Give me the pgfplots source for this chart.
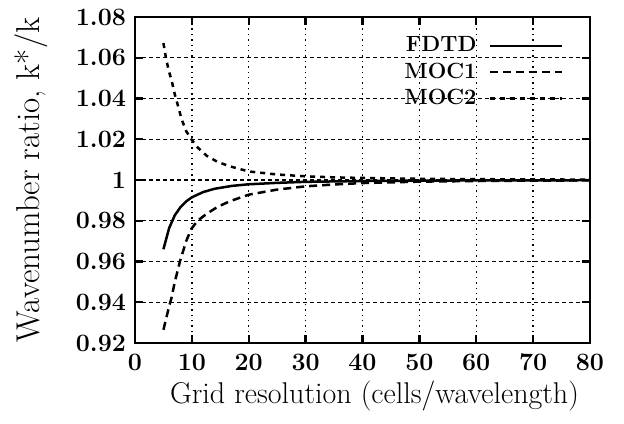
\documentclass[border=0pt]{standalone}
\usepackage{pgfplots}
\pgfplotsset{compat=1.18}
\begin{document}
\begin{tikzpicture}[font=\fontsize{14}{16}\selectfont]
\begin{axis}[
  scale only axis,
  width=227.5pt, height=163pt,
  xmin=0, xmax=80, ymin=0.92, ymax=1.08,
  xtick={0,10,...,80},
  ytick={0.92,0.94,0.96,0.98,1,1.02,1.04,1.06,1.08},
  yticklabels={0.92,0.94,0.96,0.98,1,1.02,1.04,1.06,1.08},
  /pgf/number format/assume math mode=true,
  ticklabel style={font=\fontsize{12.5}{14}\selectfont\bfseries},
  xticklabel style={yshift=-2pt},
  yticklabel style={xshift=-1pt},
  tick align=inside, major tick length=4pt,
  tick style={line width=1.2pt, black},
  axis line style={line width=1.4pt},
  grid=major,
  x grid style={black, line width=0.7pt, dotted},
  y grid style={black, line width=0.7pt, dash pattern=on 2pt off 1.5pt},
  xlabel={Grid resolution (cells/wavelength)},
  ylabel={Wavenumber ratio, k*/k},
  xlabel style={font=\fontsize{15}{17}\selectfont, yshift=2pt, xshift=6pt},
  ylabel style={font=\fontsize{16.5}{18}\selectfont, yshift=7pt},
  legend style={draw=none, fill=none, at={(0.955,0.965)}, anchor=north east,
    font=\fontsize{11}{13}\selectfont\bfseries, row sep=0pt},
  legend cell align=right,
  legend plot pos=right,
  legend image code/.code={\path (0pt,0pt); \draw[#1] (4pt,0pt) -- (40pt,0pt);},
]
\addplot[black, line width=1.25pt] coordinates {
(5,0.9660) (6,0.9764) (7,0.9827) (8,0.9867) (9,0.9895) (10,0.9915)
(12,0.9941) (14,0.9957) (17,0.9971) (20,0.9979) (25,0.9986) (30,0.9991)
(40,0.9995) (50,0.9997) (60,0.9998) (70,0.9998) (80,0.9999)};
\addlegendentry{FDTD}
\addplot[black, line width=1.25pt, dash pattern=on 4pt off 2.5pt] coordinates {
(5,0.9265) (6,0.9380) (6.4,0.9420) (7,0.9500) (7.9,0.9600) (9,0.9700)
(9.9,0.9760) (11,0.9800) (12.6,0.9834) (14.5,0.9868) (16.7,0.9896)
(20,0.9928) (25,0.9953) (30,0.9969) (35,0.9978) (40,0.9985) (50,0.9992)
(60,0.9995) (70,0.9997) (80,0.9998)};
\addlegendentry{MOC1}
\addplot[black, line width=1.25pt, dash pattern=on 2.5pt off 2.5pt] coordinates {
(5,1.0672) (5.5,1.0590) (6,1.0530) (6.4,1.0493) (7,1.0420) (7.5,1.0370)
(8.2,1.0298) (9,1.0240) (9.9,1.0200) (11,1.0160) (12.6,1.0119)
(14.5,1.0089) (16.7,1.0067) (20,1.0042) (25,1.0027) (30,1.0018)
(35,1.0013) (40,1.0010) (50,1.0006) (60,1.0004) (70,1.0003) (80,1.0002)};
\addlegendentry{MOC2}
\end{axis}
\path[use as bounding box] (-67.5pt,-40pt) rectangle (244.5pt,171.5pt);
\end{tikzpicture}
\end{document}
